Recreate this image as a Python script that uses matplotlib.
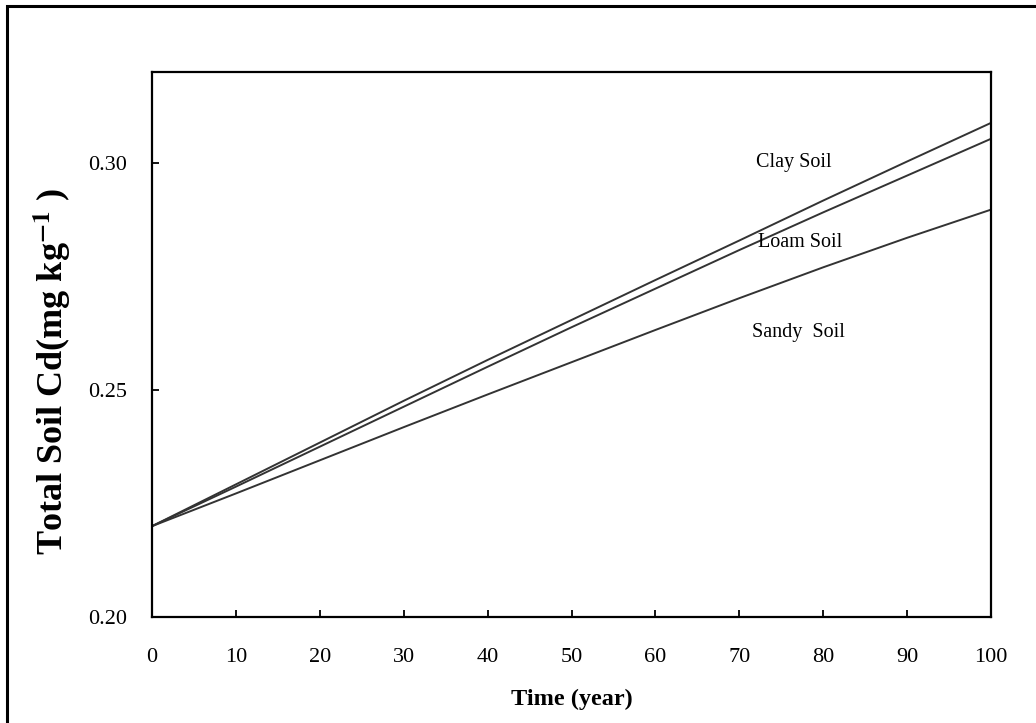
import numpy as np
import matplotlib
matplotlib.use("Agg")
import matplotlib.pyplot as plt
from matplotlib.patches import Rectangle

plt.rcParams['font.family'] = ['Liberation Serif', 'DejaVu Serif']
plt.rcParams['mathtext.fontset'] = 'stix'

# valores
tiempo = [0, 10, 20, 30, 40, 50, 60, 70, 80, 90, 100]
clay = [0.220, 0.2292, 0.2384, 0.2476, 0.2566, 0.2654, 0.2742, 0.2829, 0.2917, 0.3003, 0.3088]
loam = [0.220, 0.2287, 0.2375, 0.2463, 0.2551, 0.2638, 0.2723, 0.2808, 0.2891, 0.2972, 0.3053]
sandy = [0.220, 0.2272, 0.2345, 0.2418, 0.2490, 0.2561, 0.2632, 0.2702, 0.2770, 0.2835, 0.2897]

etiquetas = ["Clay Soil", "Loam Soil", "Sandy  Soil"]
pos_etiquetas = [(72.0, 0.300), (72.2, 0.2824), (71.5, 0.2626)]

fig = plt.figure(figsize=(10.36, 7.23), dpi=100)
ax = fig.add_axes([0.1467, 0.1466, 0.8099, 0.7538])

for serie in (clay, loam, sandy):
    ax.plot(tiempo, serie, color="#333333", linewidth=1.4)

for texto, (x, y) in zip(etiquetas, pos_etiquetas):
    ax.text(x, y, texto, fontsize=14.5, va="center", ha="left")

ax.set_xlim(0, 100)
ax.set_ylim(0.20, 0.32)
ax.set_xticks(np.arange(0, 101, 10))
ax.set_yticks([0.20, 0.25, 0.30])
ax.set_yticklabels(["0.20", "0.25", "0.30"])
ax.tick_params(direction="in", length=5, width=1.3, labelsize=16)
ax.tick_params(axis="x", pad=22)
ax.tick_params(axis="y", pad=18)
for lado in ax.spines.values():
    lado.set_linewidth(1.6)

ax.set_xlabel("Time (year)", fontsize=17.5, fontweight="bold", labelpad=16)
ax.set_ylabel(r"Total Soil Cd(mg kg$^{\mathbf{-1}}$ )", fontsize=26, fontweight="bold")
ax.yaxis.set_label_coords(-0.094, 0.451)

# marco exterior
fig.patches.append(Rectangle((7 / 1036, -0.1), 1.2, 1 - 6 / 723 + 0.1,
                             transform=fig.transFigure, fill=False,
                             edgecolor="black", linewidth=2.2))

fig.savefig("out.png", dpi=100)
